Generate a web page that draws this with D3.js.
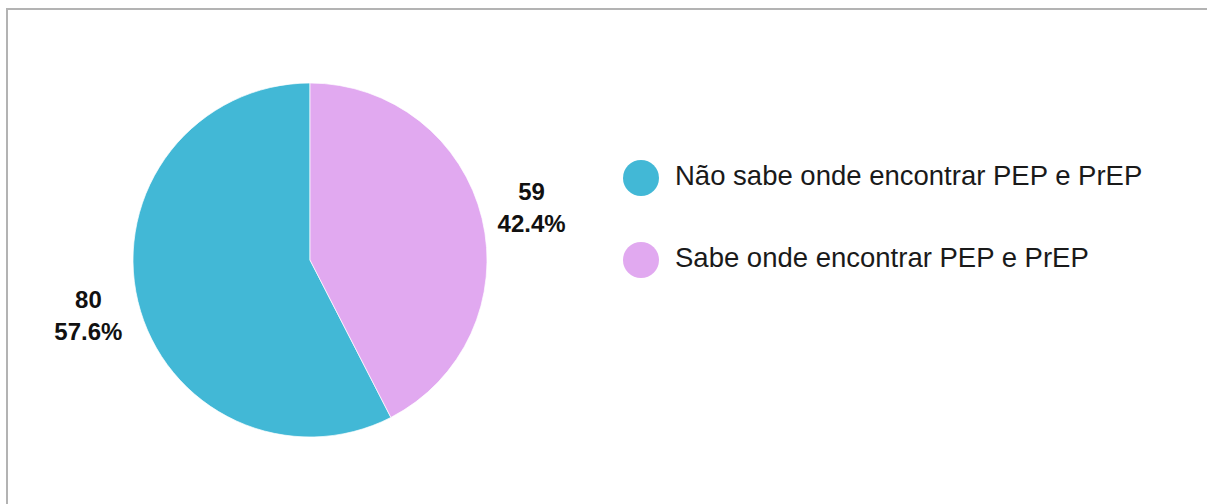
<!DOCTYPE html>
<html><head><meta charset="utf-8">
<script src="https://cdn.jsdelivr.net/npm/d3@7"></script>
<style>html,body{margin:0;padding:0;background:#fff;}svg{display:block;}</style>
</head><body>
<svg id="chart" width="1207" height="504"></svg>
<script>
const categories = ["Não sabe onde encontrar PEP e PrEP", "Sabe onde encontrar PEP e PrEP"];
const values = [80, 59];
const colors = ["#42b8d6", "#e1a9f0"];

const svg = d3.select("#chart");
// frame (top and left edges visible)
svg.append("path").attr("d", "M7,504 V9 H1207").attr("fill", "none")
  .attr("stroke", "#b3b3b3").attr("stroke-width", 2);

const cx = 310, cy = 260, r = 177;
const total = d3.sum(values);
const pie = d3.pie().sort(null).startAngle(0).endAngle(-2 * Math.PI);
const arcs = pie(values);
const arc = d3.arc().innerRadius(0).outerRadius(r);
const g = svg.append("g").attr("transform", `translate(${cx},${cy})`);
g.selectAll("path.slice").data(arcs).join("path")
  .attr("class", "slice")
  .attr("d", arc)
  .attr("fill", (d, i) => colors[i])
  .attr("stroke", "#ffffff").attr("stroke-width", 0.7);

const labelR = 228;
const lab = g.selectAll("text.lab").data(arcs).join("text")
  .attr("class", "lab")
  .attr("text-anchor", "middle")
  .attr("font-family", "Liberation Sans, Arial, sans-serif")
  .attr("font-weight", "bold")
  .attr("font-size", 24)
  .attr("fill", "#111")
  .attr("transform", d => {
    const a = (d.startAngle + d.endAngle) / 2;
    return `translate(${labelR * Math.sin(a)},${-labelR * Math.cos(a)})`;
  });
lab.append("tspan").attr("x", 0).attr("y", -6).text(d => d.value);
lab.append("tspan").attr("x", 0).attr("y", 26).text(d => (d.value / total * 100).toFixed(1) + "%");

const legY = d3.scalePoint().domain(categories).range([178, 260]);
const leg = svg.append("g").selectAll("g").data(categories).join("g")
  .attr("transform", d => `translate(641,${legY(d)})`);
leg.append("circle").attr("r", 18).attr("fill", (d, i) => colors[i]);
leg.append("text").attr("x", 34).attr("y", 7)
  .attr("font-family", "Liberation Sans, Arial, sans-serif")
  .attr("font-size", 27.5).attr("fill", "#1a1a1a").text(d => d);
</script>
</body></html>
